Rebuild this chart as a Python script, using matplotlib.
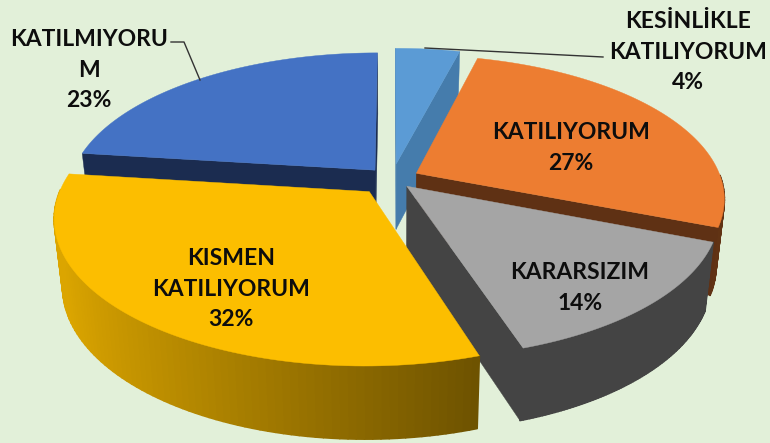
import matplotlib
matplotlib.use("Agg")
import matplotlib.pyplot as plt
from matplotlib.collections import PolyCollection
import numpy as np

labels = ["KESİNLİKLE\nKATILIYORUM", "KATILIYORUM", "KARARSIZIM", "KISMEN\nKATILIYORUM", "KATILMIYORU\nM"]
values = [4, 27, 14, 32, 23]
colors = ["#5B9BD5", "#ED7D31", "#A5A5A5", "#FCBE00", "#4472C4"]
side_colors = ["#457CAC", "#5F3114", "#444444", "#7A5C00", "#1B2C50"]
explode = [0.11, 0.09, 0.07, 0.115, 0.085]
label_pos = [(688, 52), (571, 148), (580, 288), (231, 289), (89, 70)]
draw_order = [0, 4, 1, 2, 3]

# camera settings, fitted by eye
cx, cy = 392, 179
a, b = 305, 140
persp = 0.17
depth = 66
bg = "#E2F0D9"

plt.rcParams["font.family"] = ["Lato", "DejaVu Sans"]


def project(x, y, z=0.0):
    s = 1 / (1 + persp * y)
    shrink = 1 - 0.025 * z
    return cx + a * x * s * shrink, cy - b * y * s + depth * z * np.sqrt(s)


def shade(color, f):
    rgb = np.array(matplotlib.colors.to_rgb(color))
    return tuple(rgb * f)


fig = plt.figure(figsize=(7.7, 4.43), dpi=100, facecolor=bg)
ax = fig.add_axes([0, 0, 1, 1])
ax.set_xlim(0, 770)
ax.set_ylim(443, 0)
ax.axis("off")

ends = 90 - np.cumsum(values) * 3.6
starts = np.concatenate([[90], ends[:-1]])

for i in draw_order:
    t0, t1 = np.radians(starts[i]), np.radians(ends[i])
    mid = (t0 + t1) / 2
    ox, oy = explode[i] * np.cos(mid), explode[i] * np.sin(mid)
    t = np.linspace(t0, t1, 90)
    xs, ys = ox + np.cos(t), oy + np.sin(t)

    # outer wall, shaded from left to right, front half only
    px0, py0 = project(xs, ys, 0)
    px1, py1 = project(xs, ys, 1)
    polys, cols = [], []
    for j in range(len(t) - 1):
        if np.sin(t[j]) > 0:
            continue
        polys.append([(px0[j], py0[j]), (px0[j + 1], py0[j + 1]), (px1[j + 1], py1[j + 1]), (px1[j], py1[j])])
        cols.append(shade(colors[i], np.interp((xs[j] + xs[j + 1]) / 2, [-1, 0.3, 1], [0.87, 0.41, 0.41])))
    ax.add_collection(PolyCollection(polys, facecolors=cols, edgecolors=cols, linewidths=1.2))

    # cut faces, only the ones turned to the viewer
    apex0 = project(ox, oy, 0)
    apex1 = project(ox, oy, 1)
    for k, sign in [(0, -1), (-1, 1)]:
        rim0 = (px0[k], py0[k])
        rim1 = (px1[k], py1[k])
        cross = (rim0[0] - apex0[0]) * (rim1[1] - rim0[1]) - (rim0[1] - apex0[1]) * (rim1[0] - rim0[0])
        if cross * sign > 0:
            ax.fill([apex0[0], rim0[0], rim1[0], apex1[0]], [apex0[1], rim0[1], rim1[1], apex1[1]],
                    color=side_colors[i], lw=0.3)

    ax.fill(np.r_[apex0[0], px0], np.r_[apex0[1], py0], color=colors[i], lw=0.3)

# leader lines
ax.plot([425, 603], [48, 57], color="#333333", lw=1)
ax.plot([171, 184, 200], [42, 42, 80], color="#333333", lw=1)

for name, v, (x, y) in zip(labels, values, label_pos):
    ax.text(x, y, f"{name}\n{v}%", ha="center", va="center", fontsize=16.5, fontweight="bold",
            color="#0D0D0D", linespacing=1.55)

fig.savefig("out.png", dpi=100, facecolor=bg)
